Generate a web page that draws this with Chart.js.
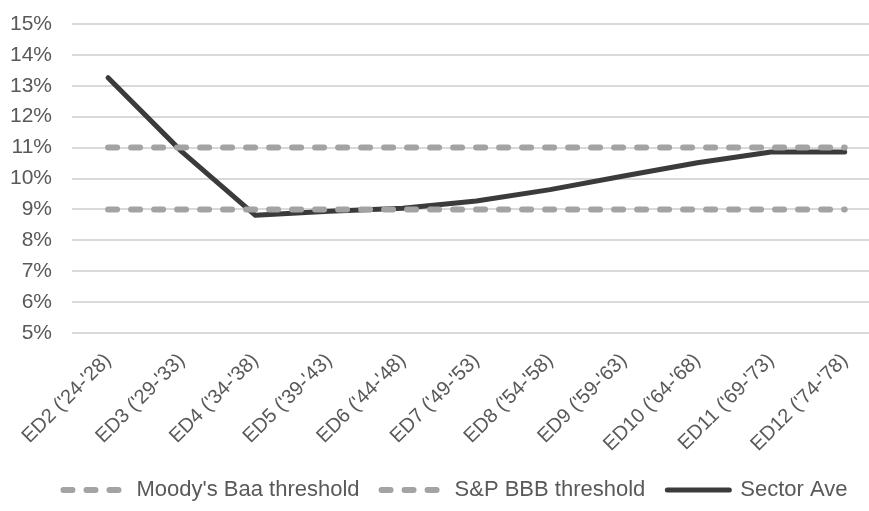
<!DOCTYPE html>
<html>
<head>
<meta charset="utf-8">
<script src="https://cdn.jsdelivr.net/npm/chart.js@4.4.0/dist/chart.umd.min.js"></script>
<style>
  html, body { margin: 0; padding: 0; background: #fff; }
  #wrap { width: 869px; height: 511px; }
</style>
</head>
<body>
<div id="wrap"><canvas id="chart"></canvas></div>
<script>
var categories = ["ED2 ('24-'28)", "ED3 ('29-'33)", "ED4 ('34-'38)", "ED5 ('39-'43)", "ED6 ('44-'48)",
  "ED7 ('49-'53)", "ED8 ('54-'58)", "ED9 ('59-'63)", "ED10 ('64-'68)", "ED11 ('69-'73)", "ED12 ('74-'78)"];
var moodysBaa = [9, 9, 9, 9, 9, 9, 9, 9, 9, 9, 9];
var spBBB = [11, 11, 11, 11, 11, 11, 11, 11, 11, 11, 11];
var sectorAve = [13.26, 10.87, 8.81, 8.94, 9.04, 9.27, 9.64, 10.08, 10.51, 10.86, 10.86];
var yTicks = [5, 6, 7, 8, 9, 10, 11, 12, 13, 14, 15];

var FONT = "'Liberation Sans', Arial, sans-serif";
var TXT = '#595959';

function toPoints(arr){
  return arr.map(function(v, i){ return {x: i, y: v}; });
}

// legend with point style 'line' does not pick up the dash, so copy it from the dataset
function legendLabels(chart){
  var items = Chart.defaults.plugins.legend.labels.generateLabels(chart);
  items.forEach(function(it){
    var ds = chart.data.datasets[it.datasetIndex];
    it.lineDash = ds.borderDash || [];
    it.lineCap = ds.borderCapStyle;
    it.lineWidth = ds.borderWidth;
    it.strokeStyle = ds.borderColor;
  });
  return items;
}

// the legend in the original sits a bit right of centre
var shiftLegend = {
  id: 'shiftLegend',
  afterLayout: function(chart){
    chart.legend.left += 21;
    chart.legend.right += 21;
  }
};

function init(){
  var element = document.getElementById('chart').getContext('2d');

  var chart = new Chart(element, {
    type: 'line',
    data: {
      datasets: [{
        label: "Moody's Baa threshold",
        data: toPoints(moodysBaa),
        borderColor: '#a3a3a3',
        backgroundColor: '#a3a3a3',
        borderWidth: 6,
        borderDash: [9, 14],
        borderCapStyle: 'round',
        pointRadius: 0
      }, {
        label: 'S&P BBB threshold',
        data: toPoints(spBBB),
        borderColor: '#a3a3a3',
        backgroundColor: '#a3a3a3',
        borderWidth: 6,
        borderDash: [9, 14],
        borderCapStyle: 'round',
        pointRadius: 0
      }, {
        label: 'Sector Ave',
        data: toPoints(sectorAve),
        borderColor: '#3b3b3b',
        backgroundColor: '#3b3b3b',
        borderWidth: 5,
        borderCapStyle: 'round',
        borderJoinStyle: 'round',
        pointRadius: 0
      }]
    },
    options: {
      responsive: true,
      maintainAspectRatio: false,
      animation: false,
      layout: { padding: { top: 24, right: 0, left: 0, bottom: 0 } },
      plugins: {
        tooltip: { enabled: false },
        legend: {
          position: 'bottom',
          labels: {
            usePointStyle: true,
            pointStyle: 'line',
            pointStyleWidth: 62,
            boxHeight: 5,
            padding: 22,
            color: TXT,
            font: { family: FONT, size: 22 },
            generateLabels: legendLabels
          }
        }
      },
      scales: {
        x: {
          type: 'linear',
          min: -0.49,
          max: 10.33,
          grid: { display: false },
          border: { display: false },
          afterBuildTicks: function(scale){
            scale.ticks = categories.map(function(c, i){ return {value: i}; });
          },
          afterFit: function(scale){
            scale.height = 124;
            scale.paddingLeft = 0;
            scale.paddingRight = 0;
          },
          ticks: {
            autoSkip: false,
            maxRotation: 45,
            minRotation: 45,
            padding: 8,
            color: TXT,
            font: { family: FONT, size: 20 },
            callback: function(v){ return categories[v]; }
          }
        },
        y: {
          min: 5,
          max: 15,
          afterBuildTicks: function(scale){
            scale.ticks = yTicks.map(function(v){ return {value: v}; });
          },
          afterFit: function(scale){
            scale.width = 72;
            scale.paddingTop = 0;
            scale.paddingBottom = 0;
          },
          grid: { color: '#d9d9d9', lineWidth: 2, drawTicks: false },
          border: { display: false },
          ticks: {
            autoSkip: false,
            padding: 20,
            color: TXT,
            font: { family: FONT, size: 21 },
            callback: function(v){ return v + '%'; }
          }
        }
      }
    },
    plugins: [shiftLegend]
  });
}

init();
</script>
</body>
</html>
